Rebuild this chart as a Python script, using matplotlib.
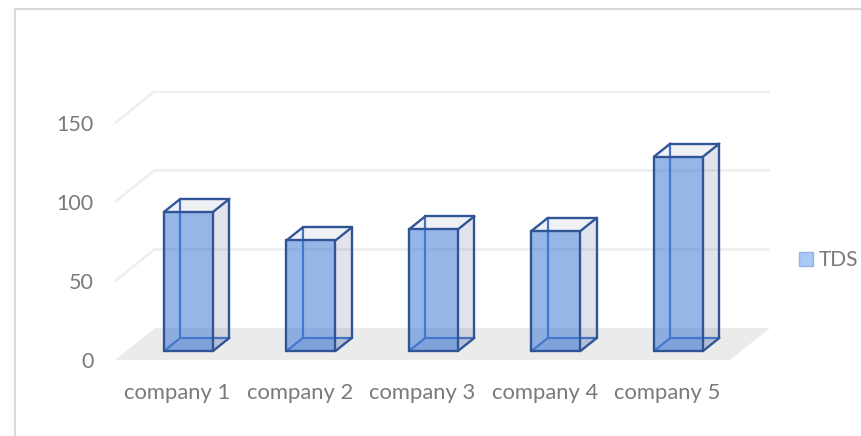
import matplotlib
matplotlib.use("Agg")
import matplotlib.pyplot as plt
from matplotlib.lines import Line2D
from matplotlib.patches import Patch

companies = ["company 1", "company 2", "company 3", "company 4", "company 5"]
tds_values = [88, 70, 77, 76, 123]
y_ticks = [0, 50, 100, 150]

W, H = 862, 436
PX_PER_UNIT = 1.58
PX_PER_CAT = 122.5
DEPTH_X = 40 / PX_PER_CAT
DEPTH_Y = 32 / PX_PER_UNIT
BAR_WIDTH = 0.4
BAR_NEAR, BAR_FAR = 0.28, 0.69

LINE = "#2F5597"
TEXT = "#7A7A7A"
plt.rcParams["font.family"] = ["Lato", "DejaVu Sans"]


def project(x, v, d):
    return x + DEPTH_X * d, v + DEPTH_Y * d


def poly(ax, pts, **kw):
    xy = [project(*p) for p in pts]
    ax.fill([p[0] for p in xy], [p[1] for p in xy], **kw)


def edge(ax, a, b, **kw):
    pa, pb = project(*a), project(*b)
    ax.plot([pa[0], pb[0]], [pa[1], pb[1]], solid_capstyle="round", **kw)


def draw_bar(ax, x, v):
    l, r = x - BAR_WIDTH / 2, x + BAR_WIDTH / 2
    n, f = BAR_NEAR, BAR_FAR
    # side, top and bottom first, the front face goes over them
    poly(ax, [(r, 0, n), (r, 0, f), (r, v, f), (r, v, n)],
         color=(0.22, 0.30, 0.50, 0.15), lw=0, zorder=3)
    poly(ax, [(l, v, n), (l, v, f), (r, v, f), (r, v, n)],
         color=(0.22, 0.30, 0.50, 0.08), lw=0, zorder=3)
    poly(ax, [(l, 0, n), (r, 0, n), (r, 0, f), (l, 0, f)],
         color=(0.27, 0.45, 0.77, 0.2), lw=0, zorder=3)

    back = dict(color="#4472C4", lw=1.6, zorder=4)
    edge(ax, (l, 0, f), (l, v, f), **back)
    edge(ax, (l, 0, f), (r, 0, f), **back)
    edge(ax, (l, 0, n), (l, 0, f), **back)

    poly(ax, [(l, 0, n), (r, 0, n), (r, v, n), (l, v, n)],
         color=(0.27, 0.49, 0.84, 0.56), lw=0, zorder=5)

    front = dict(color=LINE, lw=1.7, zorder=6)
    edge(ax, (l, 0, n), (r, 0, n), **front)
    edge(ax, (r, 0, n), (r, v, n), **front)
    edge(ax, (r, v, n), (l, v, n), **front)
    edge(ax, (l, v, n), (l, 0, n), **front)
    edge(ax, (l, v, n), (l, v, f), **front)
    edge(ax, (l, v, f), (r, v, f), **front)
    edge(ax, (r, v, f), (r, v, n), **front)
    edge(ax, (r, v, f), (r, 0, f), **front)
    edge(ax, (r, 0, f), (r, 0, n), **front)


fig = plt.figure(figsize=(W / 100, H / 100), dpi=100)
left, right, bottom, top = 115, 770, H - 360, H - 91
ax = fig.add_axes([left / W, bottom / H, (right - left) / W, (top - bottom) / H])

x_min = (115 - 177.25) / PX_PER_CAT
x_max = (770 - 177.25) / PX_PER_CAT
x_end = (730 - 177.25) / PX_PER_CAT
ax.set_xlim(x_min, x_max)
ax.set_ylim(0, (top - bottom) / PX_PER_UNIT)

# floor and walls
poly(ax, [(x_min, 0, 0), (x_end, 0, 0), (x_end, 0, 1), (x_min, 0, 1)],
     color="#EBEBEB", lw=0, zorder=1)
for v in y_ticks[1:]:
    edge(ax, (x_min, v, 0), (x_min, v, 1), color="#EFEFEF", lw=1.9, zorder=2)
    edge(ax, (x_min, v, 1), (x_end, v, 1), color="#EFEFEF", lw=1.9, zorder=2)

for i, v in enumerate(tds_values):
    draw_bar(ax, i, v)

ax.set_xticks(range(len(companies)), companies)
ax.set_yticks(y_ticks)
ax.tick_params(axis="x", length=0, pad=16.5, labelsize=15.8, labelcolor=TEXT)
ax.tick_params(axis="y", length=0, pad=15.5, labelsize=15.5, labelcolor=TEXT)
for s in ax.spines.values():
    s.set_visible(False)
ax.patch.set_alpha(0)

handle = Patch(facecolor="#A9C9F7", edgecolor="#8FB4EA", lw=1)
ax.legend([handle], ["TDS"], loc="center left", frameon=False,
          bbox_to_anchor=(795 / W, (H - 260) / H), bbox_transform=fig.transFigure,
          fontsize=15, labelcolor=TEXT, handlelength=0.68, handleheight=0.68,
          handletextpad=0.27, borderpad=0.2, borderaxespad=0)

# outer frame of the picture
frame = dict(color="#D9D9D9", lw=1.5, transform=fig.transFigure)
fig.add_artist(Line2D([15 / W, 15 / W], [0, (H - 9) / H], **frame))
fig.add_artist(Line2D([15 / W, 1], [(H - 9) / H, (H - 9) / H], **frame))

fig.savefig("out.png", dpi=100)
